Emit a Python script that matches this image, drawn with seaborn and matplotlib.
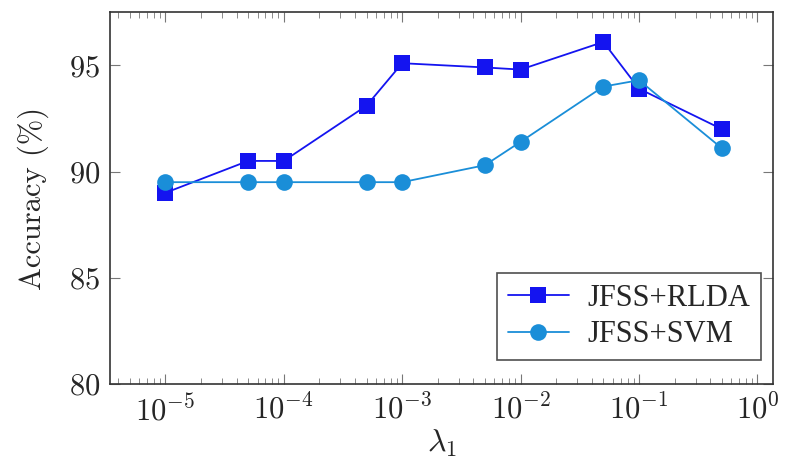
import numpy as np
import pandas as pd
import seaborn as sns
import matplotlib.pyplot as plt
from matplotlib.ticker import LogLocator, NullFormatter

# values
lambdas = [1e-5, 5e-5, 1e-4, 5e-4, 1e-3, 5e-3, 1e-2, 5e-2, 1e-1, 5e-1]
acc_rlda = [89.0, 90.5, 90.5, 93.1, 95.1, 94.9, 94.8, 96.1, 93.9, 92.0]
acc_svm = [89.5, 89.5, 89.5, 89.5, 89.5, 90.3, 91.4, 94.0, 94.3, 91.1]
methods = ["JFSS+RLDA", "JFSS+SVM"]
y_ticks = [80, 85, 90, 95]

sns.set_style("ticks")
plt.rcParams["font.family"] = "serif"
plt.rcParams["font.serif"] = ["cmr10", "DejaVu Serif"]
plt.rcParams["mathtext.fontset"] = "cm"
plt.rcParams["axes.formatter.use_mathtext"] = True

df = pd.DataFrame({
    "lambda": lambdas * 2,
    "acc": acc_rlda + acc_svm,
    "method": [methods[0]] * len(lambdas) + [methods[1]] * len(lambdas),
})

fig = plt.figure(figsize=(7.85, 4.70), dpi=100)
ax = fig.add_axes([0.140, 0.183, 0.845, 0.791])

palette = {methods[0]: "#1414f0", methods[1]: "#1a8ed8"}
sns.lineplot(
    data=df, x="lambda", y="acc", hue="method", style="method",
    markers={methods[0]: "s", methods[1]: "o"}, dashes=False,
    palette=palette, markersize=12, markeredgewidth=0, linewidth=1.3,
    ax=ax,
)

ax.set_xscale("log")
ax.set_xlim(3.4e-6, 1.36)
ax.set_ylim(80, 97.5)
ax.set_yticks(y_ticks)
ax.xaxis.set_major_locator(LogLocator(base=10, numticks=10))
ax.xaxis.set_minor_locator(LogLocator(base=10, subs=np.arange(2, 10), numticks=20))
ax.xaxis.set_minor_formatter(NullFormatter())

ax.tick_params(axis="both", which="major", direction="in", length=7, width=0.8,
               color="#777777", labelsize=22, top=True, right=True, pad=7)
ax.tick_params(axis="x", which="minor", direction="in", length=4, width=0.6,
               color="#777777", top=True)
for s in ax.spines.values():
    s.set_color("#333333")
    s.set_linewidth(1.2)

ax.set_xlabel(r"$\lambda_1$", fontsize=23, labelpad=1)
ax.set_ylabel("Accuracy (%)", fontsize=22, labelpad=14)

leg = ax.legend(loc="lower right", frameon=True, fancybox=False,
                handlelength=2.0, borderpad=0.35, labelspacing=0.25,
                handletextpad=0.6, borderaxespad=0.3,
                bbox_to_anchor=(0.995, 0.04),
                prop={"family": "Liberation Serif", "size": 22})
leg.get_frame().set_edgecolor("#222222")
leg.get_frame().set_linewidth(1.2)

fig.savefig("out.png", dpi=100)
